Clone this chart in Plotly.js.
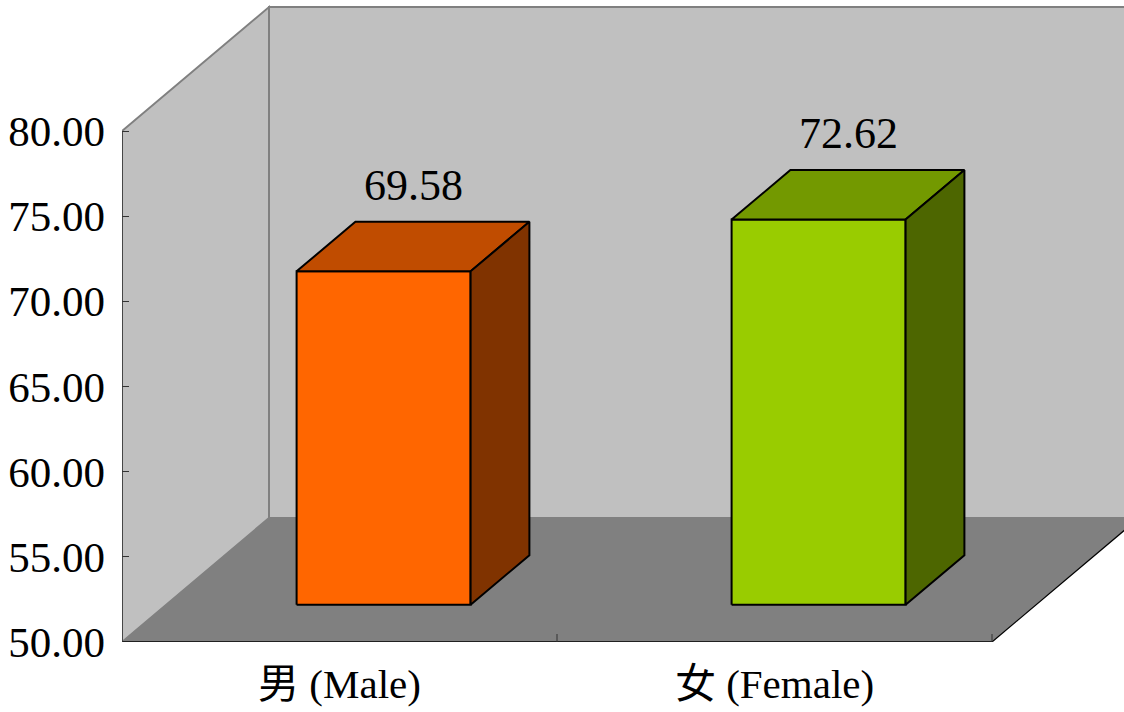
<!DOCTYPE html>
<html>
<head>
<meta charset="utf-8">
<script src="https://cdn.plot.ly/plotly-3.0.1.min.js"></script>
<style>
  html, body { margin: 0; padding: 0; background: #fff; }
  #chart { width: 1124px; height: 712px; }
</style>
</head>
<body>
<div id="chart"></div>
<script>
// ---- data ----
const categories = ['男 (Male)', '女 (Female)'];
const values = [69.58, 72.62];
const frontColors = ['#FF6600', '#99CC00'];
const topColors = ['#C04C00', '#739900'];
const sideColors = ['#803300', '#4D6600'];
const yTickVals = [50, 55, 60, 65, 70, 75, 80];

// ---- pseudo-3D geometry (in axis units) ----
const Y_MIN = 50, Y_MAX = 80;
const PX_PER_X = 435, PX_PER_Y = 17.03;
const DX = 147 / PX_PER_X;      // full depth shift along x
const DY = 124 / PX_PER_Y;      // full depth shift along y
const HALF = 0.2, D_FRONT = 0.3, D_BACK = 0.7;
const X_LEFT = -0.5, X_RIGHT = categories.length - 0.5;

const FONT = "'Liberation Serif', 'Times New Roman', 'Noto Sans CJK TC', serif";

function P(x, y, d) { return [x + d * DX, y + d * DY]; }
function poly(pts) {
  const xs = pts.map(p => p[0]), ys = pts.map(p => p[1]);
  xs.push(xs[0]); ys.push(ys[0]);
  return { xs, ys };
}
function pathOf(pts) {
  return pts.map((p, i) => (i ? 'L' : 'M') + p[0] + ',' + p[1]).join(' ') + ' Z';
}

const traces = [];
values.forEach((v, i) => {
  const xl = i - HALF, xr = i + HALF;
  const faces = [
    { pts: [P(xl, Y_MIN, D_FRONT), P(xr, Y_MIN, D_FRONT), P(xr, v, D_FRONT), P(xl, v, D_FRONT)], color: frontColors[i] },
    { pts: [P(xl, v, D_FRONT), P(xr, v, D_FRONT), P(xr, v, D_BACK), P(xl, v, D_BACK)], color: topColors[i] },
    { pts: [P(xr, Y_MIN, D_FRONT), P(xr, Y_MIN, D_BACK), P(xr, v, D_BACK), P(xr, v, D_FRONT)], color: sideColors[i] }
  ];
  faces.forEach(f => {
    const p = poly(f.pts);
    traces.push({
      type: 'scatter', mode: 'lines', x: p.xs, y: p.ys,
      fill: 'toself', fillcolor: f.color,
      line: { color: '#000000', width: 2 },
      hoverinfo: 'skip', showlegend: false
    });
  });
});

const wallGray = '#C0C0C0', floorGray = '#808080', edgeGray = '#808080';
const shapes = [
  // back wall
  { type: 'path', layer: 'below', xref: 'x', yref: 'y',
    path: pathOf([P(X_LEFT, Y_MIN, 1), P(X_RIGHT, Y_MIN, 1), P(X_RIGHT, Y_MAX, 1), P(X_LEFT, Y_MAX, 1)]),
    fillcolor: wallGray, line: { color: edgeGray, width: 2 } },
  // left side wall
  { type: 'path', layer: 'below', xref: 'x', yref: 'y',
    path: pathOf([P(X_LEFT, Y_MIN, 0), P(X_LEFT, Y_MIN, 1), P(X_LEFT, Y_MAX, 1), P(X_LEFT, Y_MAX, 0)]),
    fillcolor: wallGray, line: { color: edgeGray, width: 2 } },
  // floor
  { type: 'path', layer: 'below', xref: 'x', yref: 'y',
    path: pathOf([P(X_LEFT, Y_MIN, 0), P(X_RIGHT, Y_MIN, 0), P(X_RIGHT, Y_MIN, 1), P(X_LEFT, Y_MIN, 1)]),
    fillcolor: floorGray, line: { width: 0 } },
  // floor front edge (category axis line)
  { type: 'line', layer: 'below', xref: 'x', yref: 'y',
    x0: X_LEFT, y0: Y_MIN, x1: X_RIGHT, y1: Y_MIN, line: { color: '#000000', width: 1.5 } },
  // floor right edge
  { type: 'line', layer: 'below', xref: 'x', yref: 'y',
    x0: X_RIGHT, y0: Y_MIN, x1: X_RIGHT + DX, y1: Y_MIN + DY, line: { color: '#000000', width: 1.2 } },
  // value axis line
  { type: 'line', layer: 'below', xref: 'x', yref: 'y',
    x0: X_LEFT, y0: Y_MIN, x1: X_LEFT, y1: Y_MAX, line: { color: '#333333', width: 1.5 } }
];
// category boundary ticks on floor front edge
for (let b = 1; b <= categories.length; b++) {
  const xb = X_LEFT + b;
  shapes.push({ type: 'line', layer: 'below', xref: 'x', yref: 'y',
    x0: xb, y0: Y_MIN, x1: xb, y1: Y_MIN + 8 / PX_PER_Y, line: { color: '#333333', width: 1 } });
}

const annotations = values.map((v, i) => ({
  x: i + 0.5 * DX, y: v + D_BACK * DY, xref: 'x', yref: 'y',
  text: v.toFixed(2), showarrow: false, yanchor: 'bottom', xanchor: 'center',
  yshift: 10, font: { family: FONT, size: 44, color: '#000000' }
}));

const W = 1124, H = 712, ML = 122, MB = 70;
const layout = {
  width: W, height: H,
  margin: { l: ML, r: 0, t: 0, b: MB, pad: 0 },
  paper_bgcolor: '#ffffff', plot_bgcolor: '#ffffff',
  showlegend: false,
  xaxis: {
    range: [X_LEFT, X_LEFT + (W - ML) / PX_PER_X],
    tickvals: categories.map((c, i) => i), ticktext: categories,
    ticks: '', showgrid: false, zeroline: false, showline: false,
    tickfont: { family: FONT, size: 41, color: '#000000' },
    ticklabelstandoff: 14, fixedrange: true
  },
  yaxis: {
    range: [Y_MIN, Y_MIN + (H - MB) / PX_PER_Y],
    tickvals: yTickVals, ticktext: yTickVals.map(t => t.toFixed(2)),
    ticks: 'inside', ticklen: 7, tickwidth: 1, tickcolor: '#333333',
    showgrid: false, zeroline: false, showline: false,
    tickfont: { family: FONT, size: 43, color: '#000000' },
    ticklabelstandoff: 16, fixedrange: true
  },
  shapes: shapes,
  annotations: annotations
};

Plotly.newPlot('chart', traces, layout, { staticPlot: true, displayModeBar: false });
</script>
</body>
</html>
